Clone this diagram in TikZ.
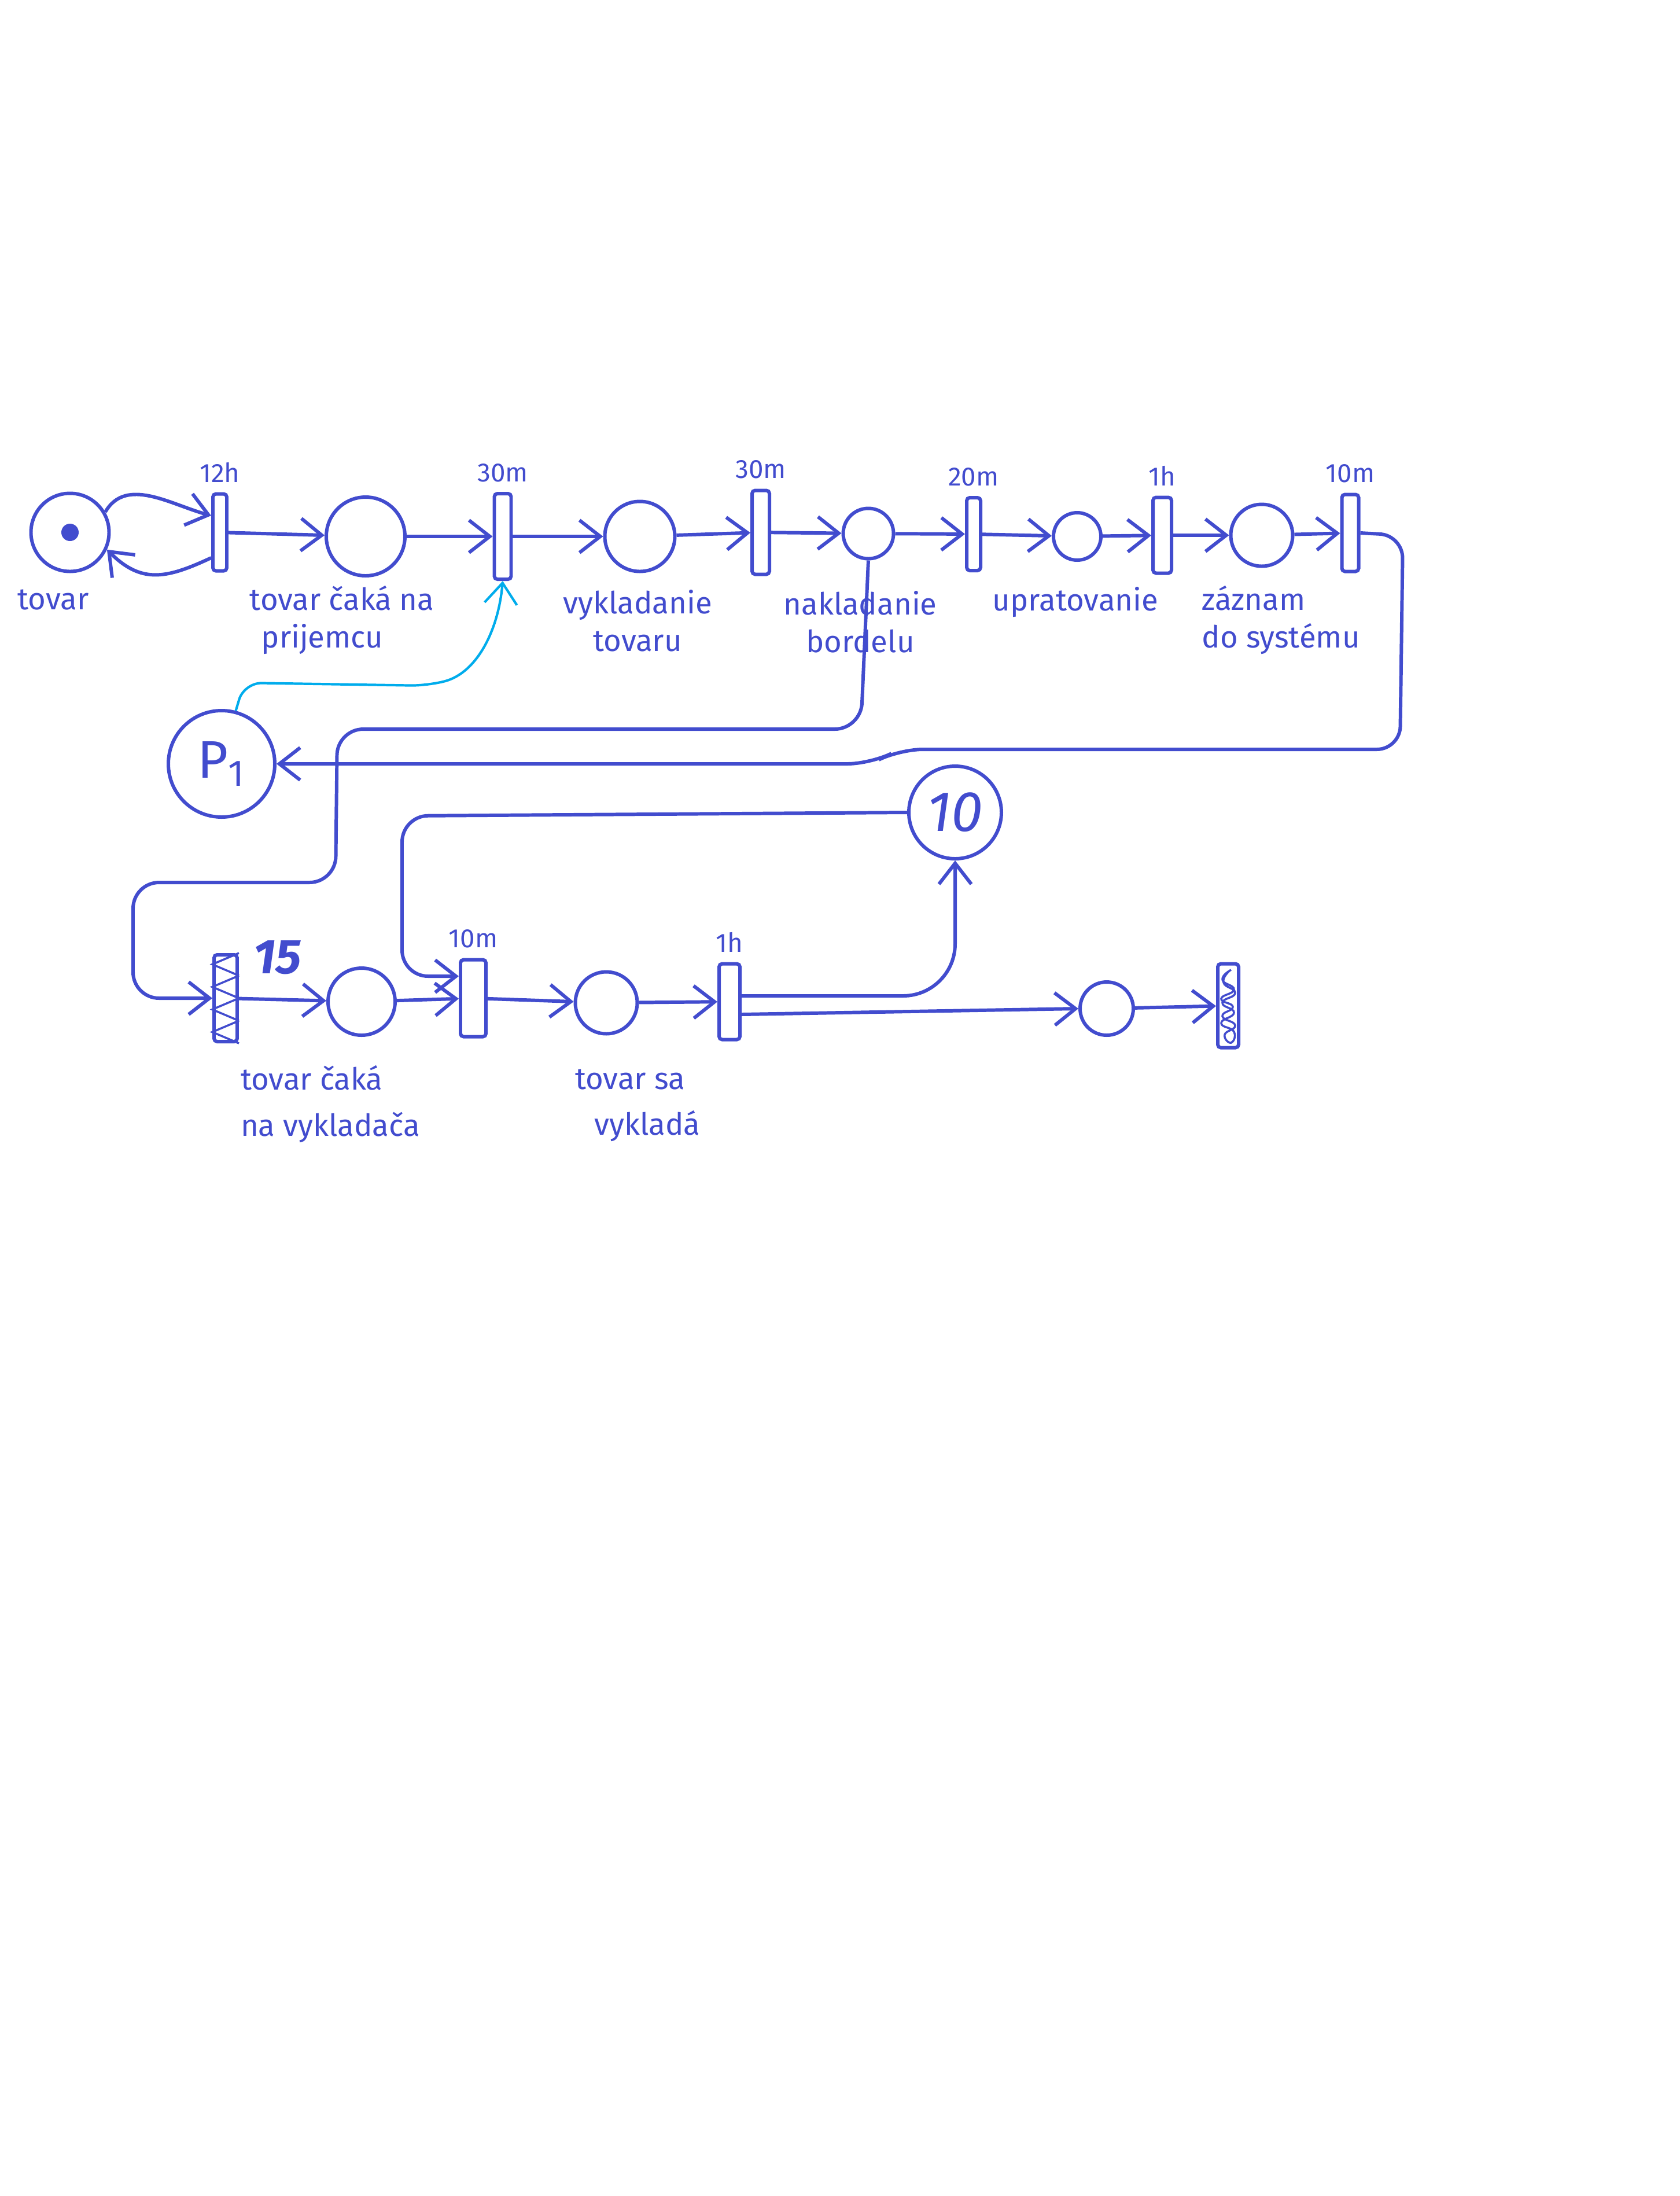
\documentclass[tikz,border=0pt]{standalone}
\usepackage{fontspec}
\setmainfont{Fira Sans}
\usetikzlibrary{arrows.meta, positioning, calc}
\definecolor{ink}{RGB}{66,76,206}
\definecolor{wire}{RGB}{0,172,236}

\begin{document}
\begin{tikzpicture}[
  place/.style={circle,draw=ink,line width=1.7pt,inner sep=0pt},
  trans/.style={rectangle,draw=ink,line width=1.7pt,fill=white,rounded corners=1.5pt,inner sep=0pt},
  tlbl/.style={font=\fontsize{13}{15}\selectfont,text=ink,label distance=0.05cm},
  txt/.style={font=\fontsize{15}{18.5}\selectfont,text=ink,inner sep=0pt},
  big/.style={font=\fontsize{26}{30}\selectfont,text=ink},
  arr/.style={-{Straight Barb[length=3.6mm,width=5.6mm]},draw=ink,line width=1.7pt},
  hatch/.style={draw=ink,line width=1pt}
]
  \useasboundingbox (0,0) rectangle (29.03,-37.95);

  % top row
  \node[place,minimum size=1.35cm] (tov) at (1.21,-9.2) {};
  \fill[ink] (tov.center) circle (0.15);
  \node[trans,minimum width=0.24cm,minimum height=1.33cm,label={[tlbl]above:12h}] (t1) at (3.8,-9.2) {};
  \node[place,minimum size=1.36cm] (cak) at (6.32,-9.27) {};
  \node[trans,minimum width=0.29cm,minimum height=1.48cm,label={[tlbl]above:30m}] (t2) at (8.69,-9.27) {};
  \node[place,minimum size=1.21cm] (vyk) at (11.06,-9.27) {};
  \node[trans,minimum width=0.3cm,minimum height=1.45cm,label={[tlbl]above:30m}] (t3) at (13.15,-9.2) {};
  \node[place,minimum size=0.87cm] (nak) at (15.01,-9.22) {};
  \node[trans,minimum width=0.24cm,minimum height=1.26cm,label={[tlbl]above:20m}] (t4) at (16.83,-9.23) {};
  \node[place,minimum size=0.82cm] (upr) at (18.62,-9.27) {};
  \node[trans,minimum width=0.32cm,minimum height=1.31cm,label={[tlbl]above:1h}] (t5) at (20.09,-9.25) {};
  \node[place,minimum size=1.07cm] (zaz) at (21.81,-9.25) {};
  \node[trans,minimum width=0.29cm,minimum height=1.33cm,label={[tlbl]above:10m}] (t6) at (23.34,-9.21) {};

  \node[txt] (ltov) at (0.92,-10.36) {tovar};
  \node[txt,align=left,anchor=north west] (lcak) at (4.31,-10.12) {tovar čaká na\\\hspace*{0.2cm}prijemcu};
  \node[txt,align=center] (lvyk) at (11.02,-10.73) {vykladanie\\tovaru};
  \node[txt,align=center] (lnak) at (14.87,-10.75) {nakladanie\\bordelu};
  \node[txt] (lupr) at (18.59,-10.41) {upratovanie};
  \node[txt,align=left,anchor=north west] (lzaz) at (20.77,-10.12) {záznam\\do systému};

  % resources
  \node[place,minimum size=1.84cm,big] (P1) at (3.83,-13.2) {P\textsubscript{1}};
  \node[place,minimum size=1.6cm,big,font=\itshape\fontsize{28}{32}\selectfont] (P2) at (16.51,-14.04) {10};

  % bottom row
  \node[trans,minimum width=0.4cm,minimum height=1.5cm] (t7) at (3.9,-17.25) {};
  \node[big,font=\bfseries\itshape\fontsize{24}{28}\selectfont] (n15) at (4.8,-16.55) {15};
  \node[place,minimum size=1.16cm] (vyc) at (6.25,-17.31) {};
  \node[trans,minimum width=0.44cm,minimum height=1.33cm,label={[tlbl]above:10m}] (t8) at (8.18,-17.25) {};
  \node[place,minimum size=1.07cm] (vys) at (10.48,-17.33) {};
  \node[trans,minimum width=0.36cm,minimum height=1.31cm,label={[tlbl]above:1h}] (t9) at (12.61,-17.31) {};
  \node[place,minimum size=0.92cm] (kon) at (19.13,-17.43) {};
  \node[trans,minimum width=0.36cm,minimum height=1.45cm] (t10) at (21.23,-17.38) {};

  \node[txt,align=left] (lvyc) at (5.71,-19.08) {tovar čaká\\[4pt]na vykladača};
  \node[txt,align=center] (lvys) at (10.89,-19.1) {tovar sa\\[4pt]\hspace*{0.6cm}vykladá};

  % hatching of t7 and scribble of t10
  \foreach \k [evaluate=\k as \a using \k/4, evaluate=\k as \b using (\k+0.5)/4, evaluate=\k as \c using (\k+1)/4] in {0,...,3}
    \draw[hatch] ($(t7.north east)!\a!(t7.south east)$) -- ($(t7.north west)!\b!(t7.south west)$) -- ($(t7.north east)!\c!(t7.south east)$);
  \begin{scope}[shift={(t10.center)}]
    \draw[hatch] plot[smooth,tension=0.9] coordinates {(0.05,0.62) (-0.1,0.45) (0.1,0.28) (-0.12,0.12) (0.08,-0.02) (-0.1,-0.18) (0.12,-0.34) (-0.06,-0.5) (0.05,-0.64) (0.1,-0.45) (-0.12,-0.3) (0.1,-0.12) (-0.1,0.05) (0.12,0.22) (-0.08,0.4) (0.02,0.6)};
  \end{scope}

  % arcs
  \draw[arr] (tov.30) to[out=60,in=165] ([yshift=0.29cm]t1.west);
  \draw[arr] ([yshift=-0.44cm]t1.west) to[out=205,in=-45,looseness=1.2] (tov.-25);
  \draw[arr] (t1) -- (cak);
  \draw[arr] (cak) -- (t2); \draw[arr] (t2) -- (vyk);
  \draw[arr] (vyk) -- (t3); \draw[arr] (t3) -- (nak);
  \draw[arr] (nak) -- (t4); \draw[arr] (t4) -- (upr);
  \draw[arr] (upr) -- (t5); \draw[arr] (t5) -- (zaz);
  \draw[arr] (zaz) -- (t6);
  \draw[arr,rounded corners=0.4cm] (t6.east) -- (24.25,-9.25) -- (24.2,-12.95) -- (15.55,-12.95) -- (15.05,-13.2) -- (P1.east);
  \draw[arr,rounded corners=0.45cm] (nak.south) -- (14.88,-12.6) -- (5.83,-12.6) -- (5.8,-15.25) -- (2.3,-15.25) |- (t7.west);
  \draw[arr,draw=wire,line width=1.2pt,rounded corners=0.3cm] (P1.75) -- (4.22,-11.8) -- (7.4,-11.85) to[out=15,in=-95] (t2.south);

  \draw[arr] (t7) -- (vyc);
  \draw[arr] (vyc) -- (t8);
  \draw[arr,rounded corners=0.45cm] (P2.west) -- (6.95,-14.1) -- (6.95,-16.87) -- ([yshift=0.38cm]t8.west);
  \draw[arr] (t8) -- (vys);
  \draw[arr] (vys) -- (t9);
  \draw[arr,rounded corners=0.9cm] ([yshift=0.1cm]t9.east) -| (P2.south);
  \draw[arr] ([yshift=-0.22cm]t9.east) -- (kon.west);
  \draw[arr] (kon) -- (t10);
\end{tikzpicture}
\end{document}
